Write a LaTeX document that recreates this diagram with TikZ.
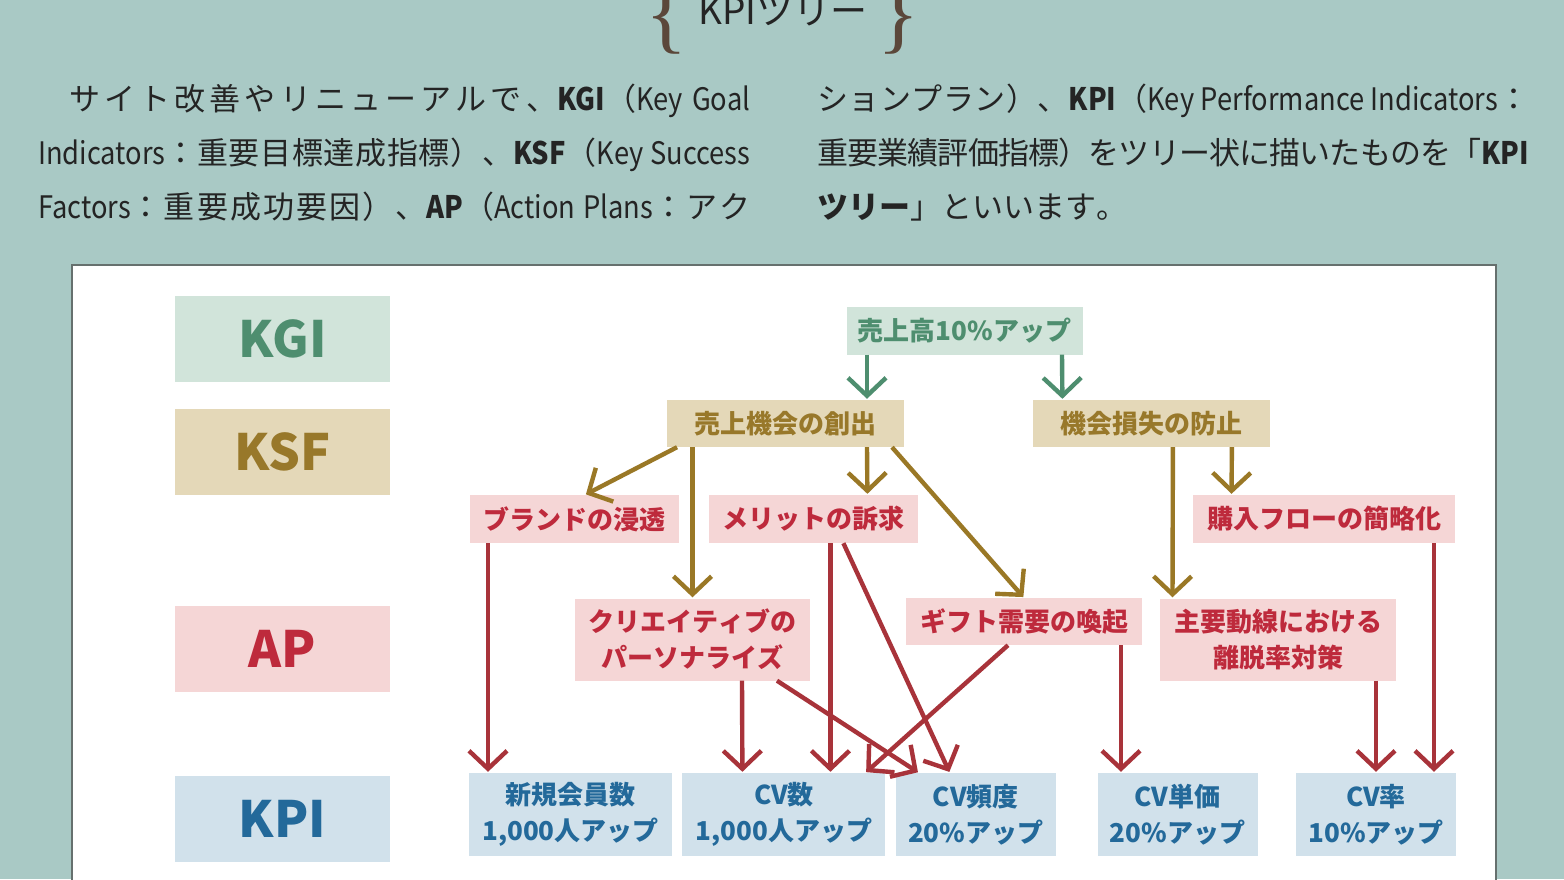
\documentclass[tikz,border=0pt]{standalone}
\usepackage{fontspec}
\usepackage{tikz}
\usetikzlibrary{positioning,arrows.meta}

\newfontfamily\jpfont{Noto Sans CJK JP}
\newfontfamily\narrowfont[FakeStretch=0.88]{Noto Sans CJK JP}
\newfontfamily\bracefont{Liberation Serif}

% stretchable glue between Japanese characters, so that lines can be spread
\newcommand{\jglue}{\hskip 0pt plus 4pt minus 1.5pt\relax}
\newXeTeXintercharclass\jpclass
\makeatletter
\newcommand{\setjpclass}[2]{%
  \count@=#1\relax
  \loop
    \XeTeXcharclass\count@=\jpclass\relax
  \ifnum\count@<#2\relax
    \advance\count@ by 1\relax
  \repeat}
\makeatother
\setjpclass{"3000}{"30FF}
\setjpclass{"4E00}{"9FFF}
\setjpclass{"FF00}{"FFEF}
\XeTeXinterchartokenstate=1
\XeTeXinterchartoks \jpclass \jpclass = {\jglue}
\XeTeXinterchartoks 0 \jpclass = {\jglue}
\XeTeXinterchartoks \jpclass 0 = {\jglue}

\definecolor{paper}{HTML}{A9C9C5}
\definecolor{ink}{HTML}{242424}
\definecolor{bracebrown}{HTML}{5B473A}
\definecolor{frame}{HTML}{66706E}
\definecolor{kgifill}{HTML}{D1E4DA}
\definecolor{kgitext}{HTML}{4E8E6F}
\definecolor{ksffill}{HTML}{E4D8B8}
\definecolor{ksftext}{HTML}{98782A}
\definecolor{ksfarrow}{HTML}{9A7826}
\definecolor{apfill}{HTML}{F5D6D6}
\definecolor{aptext}{HTML}{BE2A3C}
\definecolor{aparrow}{HTML}{A8333A}
\definecolor{kpifill}{HTML}{D1E1EB}
\definecolor{kpitext}{HTML}{23699A}

\newcommand{\lat}[1]{{\narrowfont #1}}
\newcommand{\latb}[1]{{\narrowfont\bfseries #1}}
\newcommand{\jline}[1]{\hbox to 712pt{#1}}

\begin{document}
\begin{tikzpicture}[%
    x=1pt,
    y=-1pt,
    >={Straight Barb[length=18pt,width=38pt]},
    shorten >=1pt,
    textline/.style={%
      anchor=base west,
      inner sep=0pt,
      text=ink,
      font=\jpfont\fontsize{31}{31}\selectfont
    },
    tbox/.style={%
      rectangle,
      inner sep=0pt,
      align=center,
      font=\jpfont\bfseries\fontsize{26}{36}\selectfont
    },
    kgibox/.style={tbox, fill=kgifill, text=kgitext},
    ksfbox/.style={tbox, fill=ksffill, text=ksftext, minimum width=237pt, minimum height=47pt},
    apbox/.style={tbox, fill=apfill, text=aptext},
    kpibox/.style={tbox, fill=kpifill, text=kpitext, minimum height=83pt},
    legendbox/.style={%
      minimum width=215pt,
      minimum height=86pt,
      font=\jpfont\bfseries\fontsize{50}{50}\selectfont
    },
    kgiline/.style={->, draw=kgitext, line width=4.4pt},
    ksfline/.style={->, draw=ksfarrow, line width=4.4pt},
    apline/.style={->, draw=aparrow, line width=4.4pt}
  ]
    \useasboundingbox (0,0) rectangle (1564,879);
    \fill[paper] (0,0) rectangle (1564,879);

    % heading and text
    \node[anchor=base, inner sep=0pt, text=ink, font=\jpfont\fontsize{37}{37}\selectfont] (title) at (783,24) {KPIツリー};
    \node[anchor=base, inner sep=0pt, text=bracebrown, font=\bracefont\fontsize{88}{88}\selectfont] (lbrace) at (667,42) {\{};
    \node[anchor=base, inner sep=0pt, text=bracebrown, font=\bracefont\fontsize{88}{88}\selectfont] (rbrace) at (899,42) {\}};

    \node[textline] (p1) at (38,110) {\jline{\hspace*{1em}サイト改善やリニューアルで、\latb{KGI}（\lat{Key Goal}}};
    \node[textline] (p2) at (38,164) {\jline{\lat{Indicators}：重要目標達成指標）、\latb{KSF}（\lat{Key Success}}};
    \node[textline] (p3) at (38,218) {\jline{\lat{Factors}：重要成功要因）、\latb{AP}（\lat{Action Plans}：アク}};
    \node[textline] (q1) at (817,110) {\jline{ションプラン）、\latb{KPI}（\lat{Key Performance Indicators}：}};
    \node[textline] (q2) at (817,164) {\jline{重要業績評価指標）をツリー状に描いたものを「\latb{KPI}}};
    \node[textline] (q3) at (817,218) {{\bfseries ツリー}」といいます。};

    \draw[draw=frame, fill=white, line width=2pt] (72,265) rectangle (1496,900);

    % legend
    \node[kgibox, legendbox] (kgi) at (282.5,339)   {KGI};
    \node[ksfbox, legendbox] (ksf) at (282.5,452)   {KSF};
    \node[apbox, legendbox]  (ap)  at (282.5,648.5) {AP};
    \node[kpibox, legendbox] (kpi) at (282.5,818.5) {KPI};

    % tree
    \node[kgibox, minimum width=236pt, minimum height=48pt] (sales) at (964.5,330.5) {売上高10\%アップ};
    \node[ksfbox] (create) at (785,423.5) {売上機会の創出};
    \node[ksfbox] (loss) [right=129.5pt of create] {機会損失の防止};
    \node[apbox, minimum width=209pt, minimum height=48pt] (brand) at (574.5,519) {ブランドの浸透};
    \node[apbox, minimum width=209pt, minimum height=48pt] (merit) [right=30pt of brand] {メリットの訴求};
    \node[apbox, minimum width=262pt, minimum height=48pt] (flow) at (1324,519) {購入フローの簡略化};
    \node[apbox, minimum width=235pt, minimum height=82pt] (creative) at (692.5,639.5) {クリエイティブの\\パーソナライズ};
    \node[apbox, minimum width=236pt, minimum height=47pt] (gift) at (1024,621.5) {ギフト需要の喚起};
    \node[apbox, minimum width=236pt, minimum height=82pt] (route) at (1278,639.5) {主要動線における\\離脱率対策};
    \node[kpibox, minimum width=203pt] (members) at (570.5,814.5) {新規会員数\\1,000人アップ};
    \node[kpibox, minimum width=203pt] (cvnum) [right=10pt of members] {CV数\\1,000人アップ};
    \node[kpibox, minimum width=160pt] (cvfreq) [right=10pt of cvnum] {CV頻度\\20\%アップ};
    \node[kpibox, minimum width=160pt] (cvprice) at (1177.5,814.5) {CV単価\\20\%アップ};
    \node[kpibox, minimum width=160pt] (cvrate) at (1376,814.5) {CV率\\10\%アップ};

    % KGI -> KSF
    \draw[kgiline] ([xshift=-97.5pt]sales.south) -- ([xshift=82pt]create.north);
    \draw[kgiline] ([xshift=97.5pt]sales.south) -- ([xshift=-89.5pt]loss.north);

    % KSF -> AP
    \draw[ksfline] ([xshift=-108pt]create.south) -- ([xshift=10.5pt]brand.north);
    \draw[ksfline] ([xshift=-92.5pt]create.south) -- (creative.north);
    \draw[ksfline] ([xshift=82pt]create.south) -- ([xshift=53.5pt]merit.north);
    \draw[ksfline] ([xshift=107pt]create.south) -- (gift.north);
    \draw[ksfline] ([xshift=21pt]loss.south) -- ([xshift=-105.5pt]route.north);
    \draw[ksfline] ([xshift=80pt]loss.south) -- ([xshift=-92.5pt]flow.north);

    % AP -> KPI
    \draw[apline] ([xshift=-86.5pt]brand.south) -- ([xshift=-82.5pt]members.north);
    \draw[apline] ([xshift=16.5pt]merit.south) -- ([xshift=46.5pt]cvnum.north);
    \draw[apline] ([xshift=29.5pt]merit.south) -- ([xshift=-26pt]cvfreq.north);
    \draw[apline] ([xshift=49.5pt]creative.south) -- ([xshift=-41.5pt]cvnum.north);
    \draw[apline] ([xshift=84.5pt]creative.south) -- ([xshift=-57pt]cvfreq.north);
    \draw[apline] ([xshift=-16pt]gift.south) -- ([xshift=81.5pt]cvnum.north);
    \draw[apline] ([xshift=97pt]gift.south) -- ([xshift=-56.5pt]cvprice.north);
    \draw[apline] ([xshift=98pt]route.south) -- (cvrate.north);
    \draw[apline] ([xshift=110pt]flow.south) -- ([xshift=58pt]cvrate.north);
  \end{tikzpicture}
\end{document}
